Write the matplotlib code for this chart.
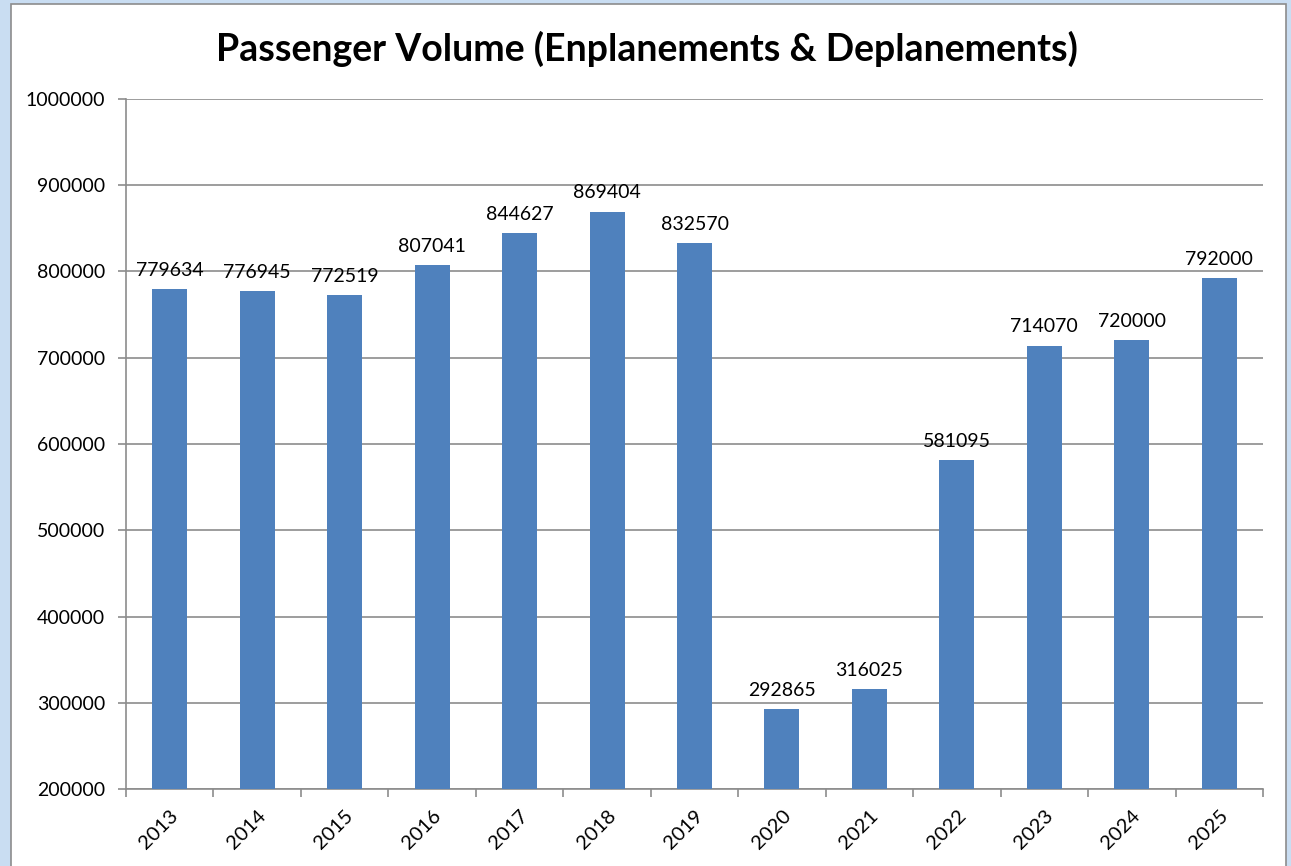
import matplotlib.pyplot as plt
from matplotlib.patches import Rectangle

# Passenger volume per year
years = ["2013", "2014", "2015", "2016", "2017", "2018", "2019",
         "2020", "2021", "2022", "2023", "2024", "2025"]
passengers = [779634, 776945, 772519, 807041, 844627, 869404, 832570,
              292865, 316025, 581095, 714070, 720000, 792000]
y_ticks = [200000, 300000, 400000, 500000, 600000, 700000, 800000, 900000, 1000000]

plt.rcParams['font.family'] = ['Lato', 'DejaVu Sans']

fig = plt.figure(figsize=(12.91, 8.66), dpi=100)
fig.patch.set_facecolor("#c9ddf2")

# white chart area with grey frame, like the Excel chart box
fig.patches.append(Rectangle((11 / 1291, -0.01), 1275 / 1291, 1 - 4 / 866 + 0.01,
                             transform=fig.transFigure, facecolor="white",
                             edgecolor="#8c8c8c", linewidth=1.2, zorder=-5))

ax = fig.add_axes([126 / 1291, 1 - 789 / 866, (1263 - 126) / 1291, (789 - 99) / 866])
ax.set_facecolor("white")
ax.set_zorder(2)

x = range(len(years))
bars = ax.bar(x, passengers, width=0.4, color="#4f81bd", zorder=3)

for xi, v in zip(x, passengers):
    ax.text(xi, v + 12000, str(v), ha="center", va="bottom", fontsize=14, color="black")

ax.set_ylim(200000, 1000000)
ax.set_xlim(-0.5, len(years) - 0.5)
ax.set_yticks(y_ticks)
ax.set_yticklabels([str(t) for t in y_ticks], fontsize=14)
ax.yaxis.grid(True, color="#8c8c8c", linewidth=1.2, zorder=0)

# category labels centred on bars, tick marks between categories
ax.set_xticks(list(x))
ax.set_xticklabels(years, rotation=45, fontsize=14.5, ha="right", rotation_mode="anchor")
ax.tick_params(axis="x", length=0, pad=13)
ax.set_xticks([i - 0.5 for i in range(len(years) + 1)], minor=True)
ax.tick_params(axis="x", which="minor", length=6, color="#8c8c8c", width=1.2)
ax.tick_params(axis="y", length=6, color="#8c8c8c", width=1.2, pad=9)

for side in ["top", "right"]:
    ax.spines[side].set_visible(False)
for side in ["left", "bottom"]:
    ax.spines[side].set_color("#8c8c8c")
    ax.spines[side].set_linewidth(1.2)

fig.text(647 / 1291, 1 - 49 / 866, "Passenger Volume (Enplanements & Deplanements)",
         ha="center", va="center", fontsize=27, fontweight="bold")

fig.savefig("out.png", dpi=100, facecolor=fig.get_facecolor())
